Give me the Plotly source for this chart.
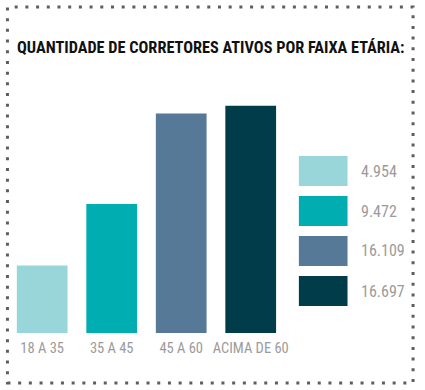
import plotly.graph_objects as go

# ---- data ----
categories = ["18 A 35", "35 A 45", "45 A 60", "ACIMA DE 60"]
values = [4954, 9472, 16109, 16697]
colors = ["#98d6da", "#00aeb2", "#557996", "#013c4a"]
title_text = "QUANTIDADE DE CORRETORES ATIVOS POR FAIXA ETÁRIA:"

W, H = 425, 390
FONT = "Roboto Condensed, Roboto, sans-serif"
GRAY = "#9b9b9b"


def px(x):
    return x / W


def py(y):
    return (H - y) / H


def fmt(v):
    return f"{v:,}".replace(",", ".")


fig = go.Figure()
fig.add_trace(go.Bar(
    x=categories, y=values,
    marker=dict(color=colors, line=dict(width=0)),
    hoverinfo="x+y",
))

shapes = [dict(
    type="rect", xref="paper", yref="paper",
    x0=px(7.5), x1=px(416), y0=py(383), y1=py(7),
    line=dict(color="#5e5e5e", width=3, dash="3px,7.7px"),
    fillcolor="rgba(0,0,0,0)", layer="below",
)]
annotations = [dict(
    text="<b>" + title_text + "</b>", xref="paper", yref="paper",
    x=px(212), y=py(47), showarrow=False, xanchor="center", yanchor="middle",
    font=dict(family=FONT, size=16.3, color="#111111"),
)]

# legend swatches + values
for i, (v, c) in enumerate(zip(values, colors)):
    top = 156 + 40 * i
    shapes.append(dict(
        type="rect", xref="paper", yref="paper",
        x0=px(301), x1=px(350), y0=py(top + 30), y1=py(top),
        fillcolor=c, line=dict(width=0),
    ))
    annotations.append(dict(
        text=fmt(v), xref="paper", yref="paper",
        x=px(362), y=py(top + 15), showarrow=False,
        xanchor="left", yanchor="middle",
        font=dict(family=FONT, size=16, color=GRAY),
    ))

fig.update_layout(
    width=W, height=H,
    margin=dict(l=0, r=0, t=0, b=0),
    paper_bgcolor="white", plot_bgcolor="white",
    showlegend=False,
    bargap=0.27,
    shapes=shapes,
    annotations=annotations,
    xaxis=dict(
        domain=[px(7.5), px(287.5)], showgrid=False, zeroline=False,
        showline=False, ticks="", fixedrange=True, tickangle=0,
        tickfont=dict(family=FONT, size=14.5, color=GRAY),
        ticklabelstandoff=4,
    ),
    yaxis=dict(
        domain=[py(333), py(105.5)], range=[0, max(values)],
        visible=False, fixedrange=True,
    ),
)

fig.write_html("out.html", config={"displayModeBar": False},
               post_script="document.body.style.margin='0';")
